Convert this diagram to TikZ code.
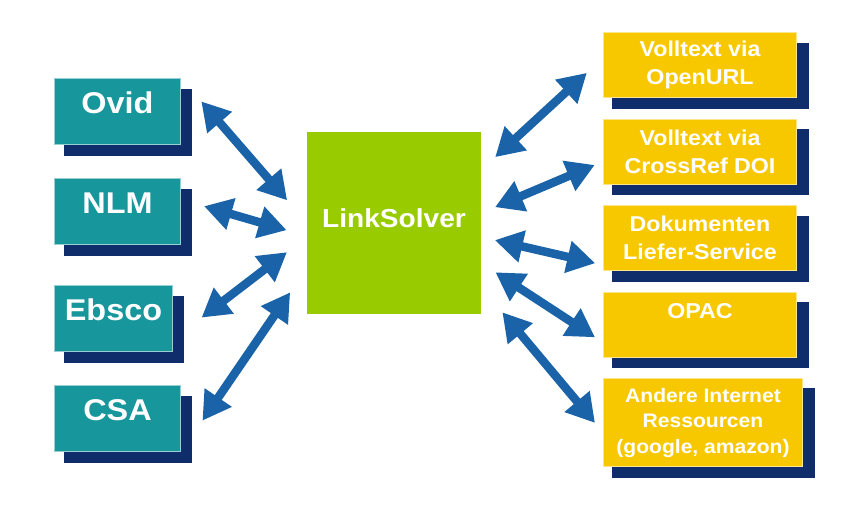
\documentclass[tikz,border=0pt]{standalone}
\usepackage{fontspec}
\newfontfamily\boxfont[FakeStretch=1.08]{Liberation Sans}
\usetikzlibrary{arrows.meta, positioning, shadows}
\definecolor{srcTeal}{HTML}{17979B}
\definecolor{shadeNavy}{HTML}{0F2C6B}
\definecolor{tgtYellow}{HTML}{F7C800}
\definecolor{solverGreen}{HTML}{99CC00}
\definecolor{linkBlue}{HTML}{1A63A8}
\tikzset{
  plate/.style={inner sep=0pt, line width=1pt, text=white, align=center,
    drop shadow={shadow xshift=10.5pt, shadow yshift=-10.5pt, shadow scale=1.02, fill=shadeNavy, opacity=1}},
  srcbox/.style={plate, fill=srcTeal, draw=srcTeal!45!white, minimum width=126pt, minimum height=66pt,
    text height=22pt, text depth=18pt, anchor=north west, font=\boxfont\bfseries\fontsize{30}{34}\selectfont},
  tgtbox/.style={plate, fill=tgtYellow, draw=tgtYellow!45!white, minimum width=193pt, minimum height=65pt,
    font=\boxfont\bfseries\fontsize{21.5}{28}\selectfont},
  solverbox/.style={fill=solverGreen, text=white, inner sep=0pt, minimum width=174pt, minimum height=182pt,
    text height=20pt, text depth=12pt, font=\boxfont\bfseries\fontsize{26}{30}\selectfont},
  link/.style={{Triangle[length=28pt,width=31pt]}-{Triangle[length=28pt,width=31pt]}, line width=8.5pt, linkBlue},
}
\begin{document}
\begin{tikzpicture}[x=1pt, y=-1pt, node distance=20.5pt]
  \useasboundingbox (0,0) rectangle (855,504);
  % databases
  \node[srcbox] (ovid) at (54,78) {Ovid};
  \node[srcbox] (nlm) at (54,178) {NLM};
  \node[srcbox, minimum width=118pt] (ebsco) at (54,285) {Ebsco};
  \node[srcbox] (csa) at (54,385) {CSA};
  % resolver
  \node[solverbox] (ls) at (394,223) {LinkSolver};
  % services
  \node[tgtbox, anchor=north west] (r1) at (603,32) {Volltext via\\OpenURL};
  \node[tgtbox, below=of r1] (r2) {Volltext via\\CrossRef DOI};
  \node[tgtbox, below=of r2] (r3) {Dokumenten\\Liefer-Service};
  \node[tgtbox, below=of r3] (r4) {OPAC\\\mbox{}};
  \node[tgtbox, minimum width=199pt, minimum height=88pt, below=of r4.south west, anchor=north west,
    font=\boxfont\bfseries\fontsize{19.5}{25.5}\selectfont] (r5)
    {Andere Internet\\Ressourcen\\(google, amazon)};
  % links
  \draw[link, shorten <=31pt, shorten >=30pt] (ovid.north east) -- (ls.west);
  \draw[link, shorten <=24pt, shorten >=21pt] ([yshift=12pt]nlm.east) -- ([yshift=-13pt]ls.west);
  \draw[link, shorten <=36pt, shorten >=25pt] ([yshift=-21pt]ebsco.east) -- ([yshift=-14pt]ls.west);
  \draw[link, shorten <=38pt, shorten >=29.5pt] (csa.south east) -- ([yshift=-45pt]ls.west);
  \draw[link, shorten <=19pt, shorten >=22pt] ([yshift=53pt]ls.east) -- ([yshift=7pt]r1.west);
  \draw[link, shorten <=15pt, shorten >=9pt] ([yshift=10pt]ls.east) -- ([yshift=-10pt]r2.west);
  \draw[link, shorten <=14pt, shorten >=8pt] ([yshift=-14pt]ls.east) -- ([yshift=-27pt]r3.west);
  \draw[link, shorten <=17pt, shorten >=9.5pt] ([yshift=-40pt]ls.east) -- ([yshift=-18pt]r4.west);
  \draw[link, shorten <=33pt, shorten >=12.5pt] ([yshift=-64pt]ls.east) -- ([yshift=-10pt]r5.west);
\end{tikzpicture}
\end{document}
